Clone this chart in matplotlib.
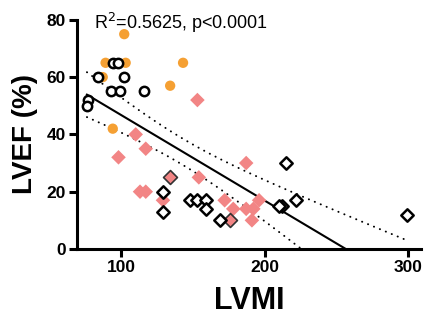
import numpy as np
import matplotlib

matplotlib.use('Agg')

import matplotlib.pyplot as plt

plt.rcParams['font.family'] = ['Liberation Sans', 'DejaVu Sans']

# 数据 (LVMI, LVEF)
orange_x = [102, 89, 103, 87, 134, 143, 94]
orange_y = [75, 65, 65, 60, 57, 65, 42]

open_circle_x = [84, 102, 94, 98, 93, 99, 116, 77, 76]
open_circle_y = [60, 60, 65, 65, 55, 55, 55, 52, 50]

pink_x = [153, 110, 117, 98, 113, 117, 129, 154, 172, 187, 178, 187, 192, 196, 191]
pink_y = [52, 40, 35, 32, 20, 20, 17, 25, 17, 30, 14, 14, 14, 17, 10]

pink_edge_x = [134, 176]
pink_edge_y = [25, 10]

open_diamond_x = [129, 129, 148, 153, 159, 159, 169, 215, 212, 222, 299, 210]
open_diamond_y = [20, 13, 17, 17, 17, 14, 10, 30, 15, 17, 12, 15]

stat_text = "R$^2$=0.5625, p<0.0001"

ORANGE = '#F5A033'
PINK = '#F28585'

fig = plt.figure(figsize=(4.32, 3.2), dpi=100)
ax = fig.add_axes([0.178, 0.222, 0.797, 0.716])

# 线性回归 + 95% 置信带
all_x = np.array(orange_x + open_circle_x + pink_x + pink_edge_x + open_diamond_x, dtype=float)
all_y = np.array(orange_y + open_circle_y + pink_y + pink_edge_y + open_diamond_y, dtype=float)
n = len(all_x)
slope, intercept = np.polyfit(all_x, all_y, 1)
resid = all_y - (intercept + slope * all_x)
s = np.sqrt(np.sum(resid ** 2) / (n - 2))
sxx = np.sum((all_x - all_x.mean()) ** 2)
t_val = 2.015
xs = np.linspace(all_x.min(), all_x.max(), 200)
fit = intercept + slope * xs
half = t_val * s * np.sqrt(1.0 / n + (xs - all_x.mean()) ** 2 / sxx)

ax.plot(xs, fit, color='black', lw=1.5, zorder=2)
ax.plot(xs, fit + half, color='black', lw=1.4, ls=(0, (0.1, 3.2)), dash_capstyle='round', zorder=2)
ax.plot(xs, fit - half, color='black', lw=1.4, ls=(0, (0.1, 3.2)), dash_capstyle='round', zorder=2)

# 散点
ax.scatter(orange_x, orange_y, s=55, marker='o', color=ORANGE, edgecolors='none', zorder=3)
ax.scatter(open_circle_x, open_circle_y, s=45, marker='o', facecolors='white',
           edgecolors='black', linewidths=1.8, zorder=4)
ax.scatter(pink_x, pink_y, s=55, marker='D', color=PINK, edgecolors='none', zorder=3)
ax.scatter(pink_edge_x, pink_edge_y, s=50, marker='D', color=PINK, edgecolors='#333333',
           linewidths=1.2, zorder=4)
ax.scatter(open_diamond_x, open_diamond_y, s=40, marker='D', facecolors='white',
           edgecolors='black', linewidths=1.8, zorder=4)

ax.set_xlim(69, 309)
ax.set_ylim(0, 80)
ax.set_xticks([100, 200, 300])
ax.set_yticks([0, 20, 40, 60, 80])

for side in ['top', 'right']:
    ax.spines[side].set_visible(False)
for side in ['left', 'bottom']:
    ax.spines[side].set_linewidth(2.2)

ax.tick_params(width=2.2, length=6, labelsize=12.5, pad=2)
for lab in ax.get_xticklabels() + ax.get_yticklabels():
    lab.set_fontweight('bold')

ax.set_xlabel("LVMI", fontsize=22, fontweight='bold', labelpad=8)
ax.set_ylabel("LVEF (%)", fontsize=20, fontweight='bold', labelpad=6)

ax.text(94 / 432, 1 - 29 / 320, stat_text, transform=fig.transFigure, fontsize=13,
        ha='left', va='baseline')

fig.savefig("out.png", dpi=100)
